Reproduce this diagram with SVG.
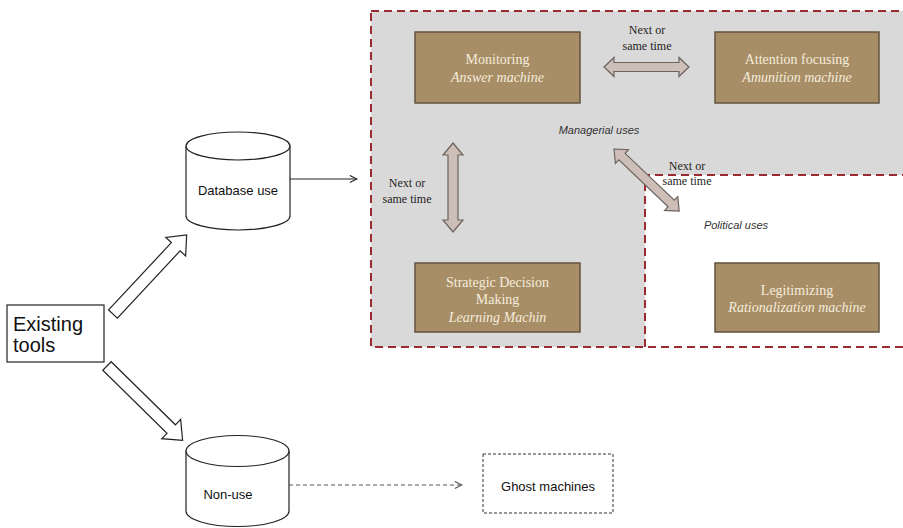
<svg xmlns="http://www.w3.org/2000/svg" width="903" height="528" viewBox="0 0 903 528">
  <defs>
    <style>
      .role { fill: #a88e66; stroke: #62533f; stroke-width: 1.5; }
      .role-t { font-family: "Liberation Serif", "Times New Roman", serif; font-size: 14px; fill: #f4ecdc; text-anchor: middle; }
      .it { font-style: italic; }
      .note { font-family: "Liberation Serif", "Times New Roman", serif; font-size: 12px; fill: #1e1e1e; text-anchor: middle; }
      .zone-t { font-family: "Liberation Sans", Arial, sans-serif; font-size: 11px; font-style: italic; fill: #333; text-anchor: middle; }
      .sans { font-family: "Liberation Sans", Arial, sans-serif; font-size: 13px; fill: #111; text-anchor: middle; }
      .cyl { fill: #fff; stroke: #222; stroke-width: 1.2; }
      .dbl { fill: #cdbfb8; stroke: #6b625e; stroke-width: 1.2; }
      .blk { fill: #fff; stroke: #222; stroke-width: 1.2; }
      .edge { fill: none; stroke: #222; stroke-width: 1; }
      .border { fill: none; stroke: #9c2a33; stroke-width: 2; stroke-dasharray: 8 5; }
    </style>
    <marker id="open" viewBox="0 0 10 10" refX="9" refY="5" markerWidth="9" markerHeight="9" markerUnits="userSpaceOnUse" orient="auto">
      <path d="M1,1 L9,5 L1,9" fill="none" stroke="#222" stroke-width="1.2"/>
    </marker>
    <marker id="openGrey" viewBox="0 0 10 10" refX="9" refY="5" markerWidth="9" markerHeight="9" markerUnits="userSpaceOnUse" orient="auto">
      <path d="M1,1 L9,5 L1,9" fill="none" stroke="#555" stroke-width="1.2"/>
    </marker>
  </defs>

  <rect width="903" height="528" fill="#fff"/>

  <!-- zones: managerial (grey) and political (white) -->
  <g id="zones">
    <path d="M371,11 H910 V175 H645 V347 H371 Z" fill="#d9d9d9"/>
    <rect x="371" y="11" width="540" height="336" class="border"/>
    <path d="M645,347 V175 H910" class="border"/>
    <text x="599" y="134" class="zone-t">Managerial uses</text>
    <text x="736" y="229" class="zone-t">Political uses</text>
  </g>

  <g id="monitoring">
    <rect x="415" y="32" width="165" height="71" class="role"/>
    <text x="497.5" y="64" class="role-t">Monitoring</text>
    <text x="497.5" y="82" class="role-t it">Answer machine</text>
  </g>

  <g id="attention">
    <rect x="715" y="32" width="164" height="71" class="role"/>
    <text x="797" y="64" class="role-t">Attention focusing</text>
    <text x="797" y="82" class="role-t it">Amunition machine</text>
  </g>

  <g id="strategic">
    <rect x="415" y="263" width="165" height="69" class="role"/>
    <text x="497.5" y="287" class="role-t">Strategic Decision</text>
    <text x="497.5" y="304" class="role-t">Making</text>
    <text x="497.5" y="322" class="role-t it">Learning Machin</text>
  </g>

  <g id="legitimizing">
    <rect x="715" y="263" width="164" height="69" class="role"/>
    <text x="797" y="295" class="role-t">Legitimizing</text>
    <text x="797" y="312" class="role-t it">Rationalization machine</text>
  </g>

  <g id="existing-tools">
    <rect x="7" y="305" width="97" height="57" fill="#fff" stroke="#222" stroke-width="1.2"/>
    <text x="13" y="331" font-family="Liberation Sans, Arial, sans-serif" font-size="20" fill="#111">Existing</text>
    <text x="13" y="352" font-family="Liberation Sans, Arial, sans-serif" font-size="20" fill="#111">tools</text>
  </g>

  <g id="database-use">
    <path d="M186,146 V216 A52,14 0 0 0 290,216 V146" class="cyl"/>
    <ellipse cx="238" cy="146" rx="52" ry="14" class="cyl"/>
    <text x="238" y="195" class="sans">Database use</text>
  </g>

  <g id="non-use">
    <path d="M186,451 V511 A51.5,15.5 0 0 0 289,511 V451" class="cyl"/>
    <ellipse cx="237.5" cy="451" rx="51.5" ry="15.5" class="cyl"/>
    <text x="228" y="499" class="sans">Non-use</text>
  </g>

  <g id="ghost-machines">
    <rect x="483" y="454" width="130" height="59" fill="#fff" stroke="#333" stroke-width="1" stroke-dasharray="3 2"/>
    <text x="548" y="491" class="sans">Ghost machines</text>
  </g>

  <g id="connectors">
    <!-- block arrows from existing tools -->
    <path transform="translate(113,314) rotate(-47)" d="M0,-6 H92 V-13.5 L108,0 L92,13.5 V6 H0 Z" class="blk"/>
    <path transform="translate(107,366) rotate(44.5)" d="M0,-6 H90 V-13.5 L106,0 L90,13.5 V6 H0 Z" class="blk"/>
    <!-- plain links -->
    <line x1="290" y1="179" x2="357" y2="179" class="edge" marker-end="url(#open)"/>
    <line x1="289" y1="485" x2="462" y2="485" fill="none" stroke="#555" stroke-width="1" stroke-dasharray="4 3" marker-end="url(#openGrey)"/>
    <!-- two-way arrows between roles -->
    <path transform="translate(604,67)" d="M0,0 L10,-9.5 V-4.5 H75 V-9.5 L85,0 L75,9.5 V4.5 H10 V9.5 Z" class="dbl"/>
    <path transform="translate(453,143) rotate(90)" d="M0,0 L12,-10 V-5 H77 V-10 L89,0 L77,10 V5 H12 V10 Z" class="dbl"/>
    <path transform="translate(614,149) rotate(43.6)" d="M0,0 L11,-9.5 V-4.5 L79,-4.5 V-9.5 L90,0 L79,9.5 V4.5 H11 V9.5 Z" class="dbl"/>
    <text x="647" y="34" class="note">Next or</text>
    <text x="647" y="50" class="note">same time</text>
    <text x="407" y="187" class="note">Next or</text>
    <text x="407" y="203" class="note">same time</text>
    <text x="687" y="170" class="note">Next or</text>
    <text x="687" y="185" class="note">same time</text>
  </g>
</svg>
